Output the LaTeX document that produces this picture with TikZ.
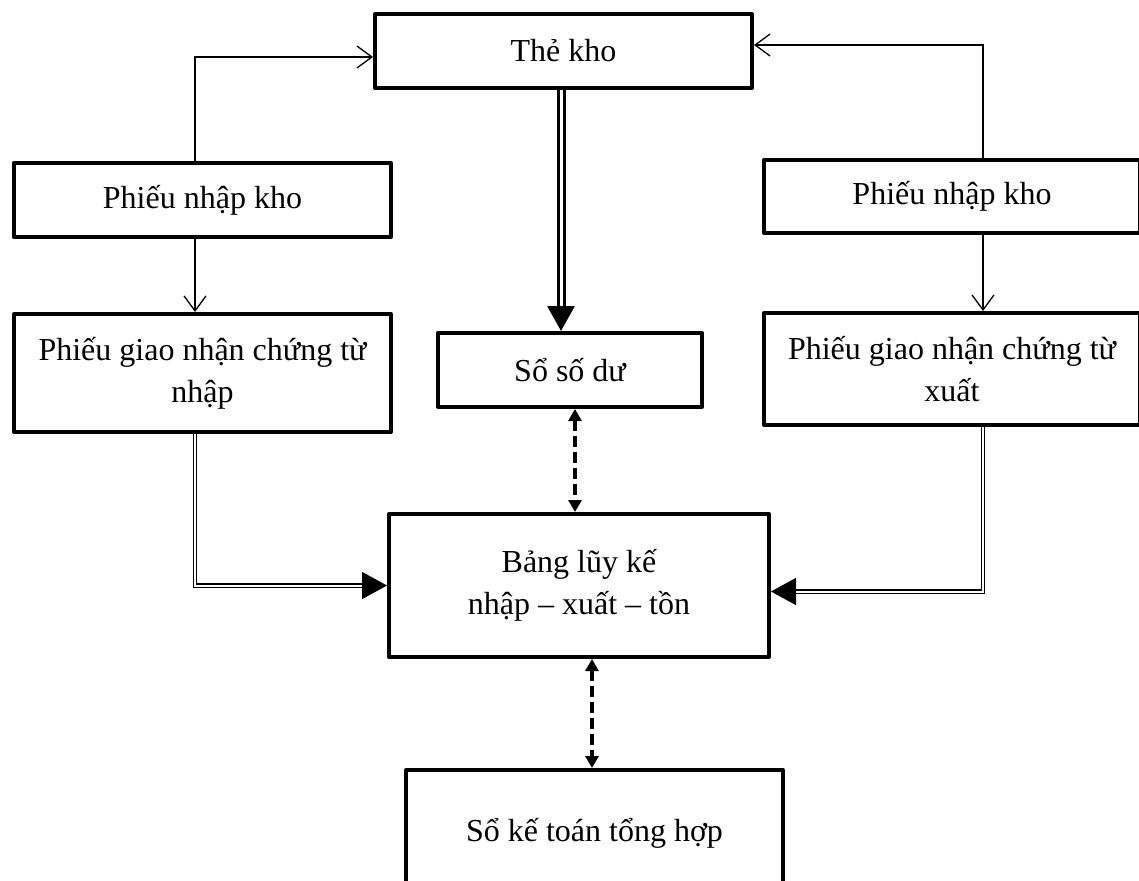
\documentclass[tikz,border=0pt]{standalone}
\usepackage{fontspec}
\setmainfont{Liberation Serif}
\usetikzlibrary{arrows.meta,calc,positioning}

\begin{document}
\begin{tikzpicture}[x=1pt,y=-1pt,line width=1.3pt,
  box/.style={draw,rectangle,line width=4pt,line join=round,inner sep=0pt,align=center,font=\fontsize{32}{42}\selectfont},
  openarrow/.style={-{Straight Barb[length=15pt 0,width=22pt 0]}},
  maindouble/.style={double,line width=3pt,double distance=3pt,-{Triangle[length=25pt 0,width=27pt 0]}},
  sidedouble/.style={double,line width=1.3pt,double distance=2pt,-{Triangle[length=25pt 0,width=27pt 0]}},
  dasharrow/.style={line width=3.5pt,dash pattern=on 11pt off 5pt,{Triangle[length=12pt 0,width=13pt 0]}-{Triangle[length=12pt 0,width=13pt 0]}}]
\useasboundingbox (0,0) rectangle (1139,880);
%columns of the connectors
\coordinate (COLL) at (195,0);
\coordinate (COLR) at (983,0);
\coordinate (COLM) at (561,0);
\coordinate (COLDA) at (575,0);
\coordinate (COLDB) at (592,0);
%boxes
\node[box,minimum width=377pt,minimum height=74pt] (THEKHO) at (563.5,51) {Thẻ kho};
\node[box,minimum width=377pt,minimum height=74pt] (NHAPL) at (202.5,200) {Phiếu nhập kho};
\node[box,minimum width=377pt,minimum height=118pt] (GIAOL) at (202.5,373) {Phiếu giao nhận chứng từ\\nhập};
\node[box,minimum width=376pt,minimum height=73pt] (NHAPR) at (952,196.5) {Phiếu nhập kho};
\node[box,minimum width=376pt,minimum height=112pt] (GIAOR) at (952,369) {Phiếu giao nhận chứng từ\\xuất};
\node[box,minimum width=264pt,minimum height=74pt] (SODU) at (570,370) {Sổ số dư};
\node[box,minimum width=380pt,minimum height=143pt] (BANG) at (579,585.5) {Bảng lũy kế\\nhập -- xuất -- tồn};
\node[box,minimum width=377pt,minimum height=126pt] (SOKT) at (594.5,833) {Sổ kế toán tổng hợp};
%to the stock card
\draw[openarrow] (NHAPL.north -| COLL) |- ($(THEKHO.west)+(0,6)$);
\draw[openarrow] (NHAPR.north -| COLR) |- ($(THEKHO.east)+(0,-6)$);
%down to the receipts
\draw[openarrow] (NHAPL.south -| COLL) -- (GIAOL.north -| COLL);
\draw[openarrow] (NHAPR.south -| COLR) -- (GIAOR.north -| COLR);
%double lines
\draw[maindouble] (THEKHO.south -| COLM) -- (SODU.north -| COLM);
\draw[sidedouble] (GIAOL.south -| COLL) |- (BANG.west);
\draw[sidedouble] (GIAOR.south -| COLR) |- ($(BANG.east)+(0,6)$);
%dashed links
\draw[dasharrow] (SODU.south -| COLDA) -- (BANG.north -| COLDA);
\draw[dasharrow] (BANG.south -| COLDB) -- (SOKT.north -| COLDB);
\end{tikzpicture}
\end{document}
